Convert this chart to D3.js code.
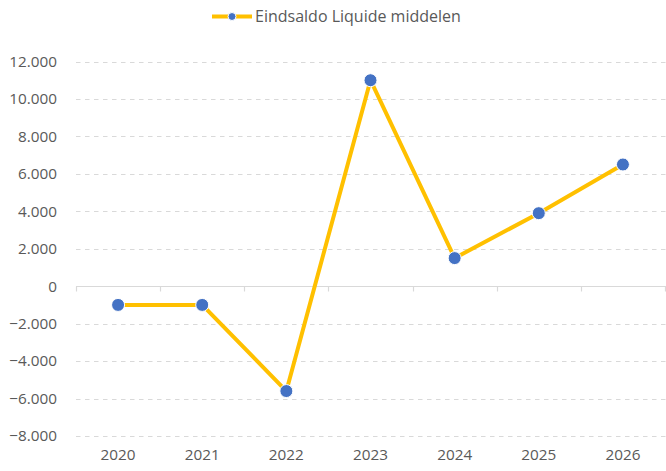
<!DOCTYPE html>
<html>
<head>
<meta charset="utf-8">
<script src="https://cdn.jsdelivr.net/npm/d3@7/dist/d3.min.js"></script>
<style>
  body { margin: 0; background: #fff; }
  svg text { font-family: "Open Sans", "Noto Sans", sans-serif; fill: #595959; }
</style>
</head>
<body>
<svg id="chart" width="666" height="471"></svg>
<script>
var years = ["2020", "2021", "2022", "2023", "2024", "2025", "2026"];
var saldo = [-1000, -1000, -5600, 11000, 1500, 3900, 6500];
var yTicks = [-8000, -6000, -4000, -2000, 0, 2000, 4000, 6000, 8000, 10000, 12000];
var seriesName = "Eindsaldo Liquide middelen";

var lineColor = "#FFC000";
var dotColor = "#4472C4";
var gridColor = "#d9d9d9";

var svg = d3.select("#chart");

var x = d3.scaleBand()
    .domain(years)
    .range([76, 665]);

var y = d3.scaleLinear()
    .domain([-8000, 12000])
    .range([436, 61.5]);

var fmt = function(d){ return d3.format(",")(d).replace(/,/g, "."); };

// gridlines
svg.append("g")
    .selectAll("line")
    .data(yTicks.filter(function(d){ return d != 0; }))
    .enter()
    .append("line")
    .attr("x1", 76)
    .attr("x2", 666)
    .attr("y1", function(d){ return Math.round(y(d)) + 0.5; })
    .attr("y2", function(d){ return Math.round(y(d)) + 0.5; })
    .attr("stroke", gridColor)
    .attr("stroke-width", 1.2)
    .attr("stroke-dasharray", "4.5,4.5");

// y labels
svg.append("g")
    .selectAll("text")
    .data(yTicks)
    .enter()
    .append("text")
    .attr("x", 57)
    .attr("y", function(d){ return y(d); })
    .attr("dy", "0.35em")
    .attr("text-anchor", "end")
    .attr("font-size", 15.3)
    .text(fmt);

// zero axis with category ticks
var zeroY = Math.round(y(0)) + 0.5;
svg.append("line")
    .attr("x1", 76)
    .attr("x2", 666)
    .attr("y1", zeroY)
    .attr("y2", zeroY)
    .attr("stroke", gridColor)
    .attr("stroke-width", 1.2);

var bounds = years.map(function(d){ return x(d); }).concat([x.range()[1]]);
svg.append("g")
    .selectAll("line")
    .data(bounds)
    .enter()
    .append("line")
    .attr("x1", function(d){ return Math.round(d) + 0.5; })
    .attr("x2", function(d){ return Math.round(d) + 0.5; })
    .attr("y1", zeroY)
    .attr("y2", zeroY + 5)
    .attr("stroke", gridColor)
    .attr("stroke-width", 1.2);

// x labels
svg.append("g")
    .selectAll("text")
    .data(years)
    .enter()
    .append("text")
    .attr("x", function(d){ return x(d) + x.bandwidth() / 2; })
    .attr("y", 455)
    .attr("dy", "0.35em")
    .attr("text-anchor", "middle")
    .attr("font-size", 15.3)
    .text(function(d){ return d; });

// line
var line = d3.line()
    .x(function(d, i){ return x(years[i]) + x.bandwidth() / 2; })
    .y(function(d){ return y(d); });

svg.append("path")
    .datum(saldo)
    .attr("d", line)
    .attr("fill", "none")
    .attr("stroke", lineColor)
    .attr("stroke-width", 4)
    .attr("stroke-linejoin", "round");

svg.append("g")
    .selectAll("circle")
    .data(saldo)
    .enter()
    .append("circle")
    .attr("cx", function(d, i){ return x(years[i]) + x.bandwidth() / 2; })
    .attr("cy", function(d){ return y(d); })
    .attr("r", 6.5)
    .attr("fill", dotColor)
    .attr("stroke", "#fff")
    .attr("stroke-width", 1);

// legend
var legend = svg.append("g");
legend.append("line")
    .attr("x1", 212)
    .attr("x2", 252)
    .attr("y1", 16.5)
    .attr("y2", 16.5)
    .attr("stroke", lineColor)
    .attr("stroke-width", 4);
legend.append("circle")
    .attr("cx", 232)
    .attr("cy", 16.5)
    .attr("r", 4)
    .attr("fill", dotColor)
    .attr("stroke", "#fff")
    .attr("stroke-width", 1);
legend.append("text")
    .attr("x", 255)
    .attr("y", 16.5)
    .attr("dy", "0.35em")
    .attr("font-size", 16)
    .text(seriesName);
</script>
</body>
</html>
